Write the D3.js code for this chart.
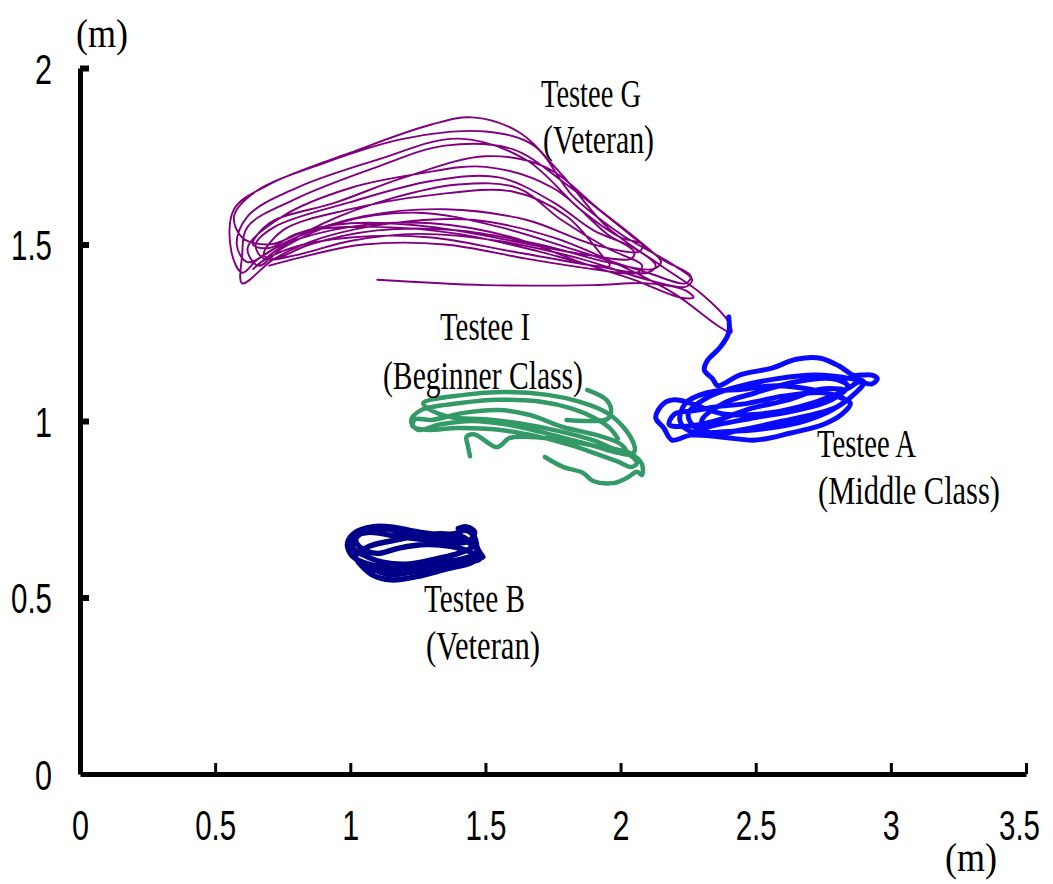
<!DOCTYPE html>
<html>
<head>
<meta charset="utf-8">
<script src="https://cdn.jsdelivr.net/npm/d3@7"></script>
<style>
  body { margin: 0; background: #fff; }
  svg { display: block; }
  .tick text { font-family: "Liberation Sans Narrow", "Liberation Sans", Arial, sans-serif; }
  .note { font-family: "Liberation Serif", "Times New Roman", serif; fill: #000; }
</style>
</head>
<body>
<svg id="chart" width="1053" height="884"></svg>
<script>
// axis ticks (metres)
const xTicks = [0, 0.5, 1, 1.5, 2, 2.5, 3, 3.5];
const yTicks = [0, 0.5, 1, 1.5, 2];

// Testee G (veteran) - thin purple trajectory
const testeeG = [
  [[1.10,1.40],[1.50,1.385],[1.90,1.385],[2.10,1.39],[2.24,1.37],[2.27,1.35],[2.22,1.35],[2.05,1.40],[1.85,1.45],
   [1.60,1.52],[1.30,1.56],[1.00,1.55],[0.75,1.50],[0.62,1.45],[0.58,1.50],[0.62,1.58],
   [0.80,1.66],[1.10,1.74],[1.40,1.80],[1.65,1.74],[1.85,1.60],[2.00,1.52],[2.08,1.50],[2.07,1.48],[1.90,1.50],
   [1.65,1.57],[1.35,1.60],[1.05,1.58],[0.80,1.52],[0.66,1.46],[0.60,1.42],[0.56,1.48],[0.57,1.60],
   [0.70,1.67],[1.00,1.76],[1.30,1.84],[1.45,1.86],[1.62,1.82],[1.78,1.70],[1.95,1.55],[2.15,1.44],[2.30,1.36],
   [2.40,1.28],[2.41,1.25],[2.36,1.27],[2.20,1.36],[2.00,1.44],[1.75,1.52],[1.45,1.57],[1.15,1.56],[0.90,1.52],
   [0.72,1.46],[0.60,1.39],[0.60,1.47],[0.62,1.55],
   [0.80,1.63],[1.10,1.72],[1.35,1.78],[1.60,1.77],[1.80,1.67],[1.95,1.58],[2.15,1.46],[2.26,1.41],[2.24,1.39],
   [2.10,1.42],[1.85,1.48],[1.55,1.55],[1.25,1.59],[0.95,1.56],[0.75,1.49],[0.66,1.44],[0.62,1.49],
   [0.75,1.58],[1.00,1.66],[1.25,1.70],[1.50,1.72],[1.75,1.66],[1.95,1.53],[2.05,1.48],[2.04,1.46],[1.88,1.47],
   [1.60,1.51],[1.30,1.55],[1.00,1.56],[0.80,1.53],[0.70,1.49],[0.64,1.50],
   [0.70,1.56],[0.95,1.62],[1.20,1.69],[1.50,1.75],[1.72,1.72],[1.92,1.60],[2.10,1.49],[2.15,1.45],[2.12,1.43],
   [1.95,1.45],[1.70,1.50],[1.40,1.54],[1.10,1.54],[0.85,1.50],[0.72,1.46],[0.68,1.47],
   [0.75,1.54],[1.00,1.60],[1.30,1.64],[1.60,1.65],[1.80,1.58],[1.93,1.47],[1.96,1.44],[1.90,1.44],[1.70,1.48],
   [1.40,1.53],[1.10,1.55],[0.85,1.54],[0.70,1.50],[0.60,1.52],[0.57,1.58],
   [0.65,1.65],[0.90,1.73],[1.20,1.80],[1.50,1.82],[1.68,1.78],[1.82,1.64],[2.00,1.53],[2.20,1.44],[2.265,1.40],
   [2.24,1.38],[2.10,1.40],[1.85,1.46],[1.55,1.51],[1.25,1.53],[1.00,1.51],[0.80,1.47],[0.68,1.46],[0.65,1.50],
   [0.72,1.55],[1.00,1.62],[1.30,1.68],[1.55,1.69],[1.75,1.62],[1.90,1.54],[2.05,1.49],[2.13,1.44],[2.10,1.42],
   [1.90,1.44],[1.60,1.48],[1.30,1.52],[1.00,1.52],[0.78,1.49],[0.67,1.45],
   [0.64,1.43],[0.72,1.48],[0.90,1.56],[1.15,1.63],[1.40,1.67],[1.62,1.66],[1.78,1.57],[1.95,1.49],[2.08,1.44],
   [2.06,1.42],[1.90,1.43],[1.65,1.46],[1.35,1.50],[1.05,1.50],[0.85,1.47],[0.70,1.44]]
];

// Testee A (middle class) - blue
const testeeA = [
  [[2.40,1.295],[2.40,1.25],[2.37,1.21],[2.32,1.17],[2.31,1.144],[2.34,1.12],[2.36,1.10],
   [2.44,1.13],[2.56,1.15],[2.65,1.175],[2.74,1.178],[2.81,1.155],[2.86,1.13],[2.89,1.13],[2.93,1.13],[2.95,1.12],
   [2.93,1.105],[2.88,1.11],[2.85,1.096],[2.78,1.07],[2.66,1.04],[2.52,1.02],[2.38,1.02],[2.26,1.05],[2.20,1.06],
   [2.16,1.05],[2.13,1.01],[2.16,0.98],[2.19,0.946],[2.26,0.96],[2.37,0.955],[2.50,0.946],[2.63,0.966],[2.75,0.99],
   [2.82,1.02],[2.85,1.05],[2.80,1.07],[2.70,1.09],[2.58,1.10],[2.45,1.09],[2.32,1.08],[2.24,1.05],[2.22,1.00],
   [2.26,0.97],[2.40,0.97],[2.55,0.98],[2.68,1.00],[2.78,1.03],[2.87,1.08],[2.90,1.11],[2.85,1.12],[2.72,1.13],
   [2.58,1.12],[2.45,1.10],[2.33,1.07],[2.25,1.02],[2.28,0.98],[2.36,0.99],[2.50,1.01],[2.65,1.03],[2.78,1.06],
   [2.84,1.10],[2.78,1.12],[2.64,1.11],[2.50,1.08],[2.38,1.05],[2.30,1.00],[2.33,0.965],[2.45,0.975],[2.60,1.00],
   [2.72,1.02],[2.80,1.04],[2.83,1.06],[2.75,1.08],[2.60,1.07],[2.47,1.05],[2.35,1.04],[2.28,1.03],
   [2.20,1.02],[2.18,0.99],[2.24,0.985],[2.35,1.00],[2.48,1.035],[2.62,1.06],[2.74,1.09],[2.82,1.09]]
];

// Testee I (beginner class) - green
const testeeI = [
  [[1.443,0.90],[1.435,0.93],[1.43,0.955],[1.46,0.962],[1.543,0.926],[1.59,0.952],[1.665,0.955],[1.787,0.946],
   [1.90,0.93],[1.99,0.915],[2.04,0.90],[2.06,0.88],[2.04,0.87],[1.99,0.885],[1.90,0.91],[1.80,0.935],[1.70,0.955],
   [1.55,0.975],[1.40,0.98],[1.28,0.975],[1.23,0.985],[1.24,1.005],[1.30,1.003],[1.42,1.023],[1.55,1.031],
   [1.665,1.017],[1.787,0.983],[1.913,0.96],[2.00,0.935],[2.02,0.915],[1.98,0.92],[1.90,0.945],[1.78,0.97],
   [1.65,0.99],[1.50,1.005],[1.38,1.01],[1.30,1.03],[1.27,1.051],[1.42,1.074],[1.565,1.082],[1.73,1.074],
   [1.85,1.054],[1.95,1.023],[2.01,0.983],[2.046,0.941],[2.053,0.918],[2.04,0.905],[1.99,0.91],[1.90,0.93],
   [1.80,0.95],[1.70,0.97],[1.58,0.99],[1.45,1.00],[1.33,0.99],[1.25,0.975],[1.225,1.00],[1.26,1.03],[1.40,1.05],
   [1.55,1.06],[1.70,1.055],[1.82,1.035],[1.90,1.01],[1.96,0.98],[1.99,0.95]],
  [[1.876,1.088],[1.95,1.058],[1.965,1.023],[1.95,1.005],[1.88,1.00],[1.80,1.003]],
  [[1.72,0.898],[1.787,0.870],[1.861,0.853],[1.898,0.830],[1.972,0.824],[2.024,0.839],[2.061,0.856],[2.079,0.847],
   [2.079,0.878],[2.035,0.909],[1.987,0.918],[1.95,0.925]]
];

// Testee B (veteran) - navy
const testeeB = [
  [[1.49,0.615],[1.47,0.64],[1.46,0.67],[1.43,0.69],[1.38,0.68],[1.30,0.68],[1.22,0.69],[1.15,0.70],[1.08,0.70],
   [1.02,0.685],[0.99,0.655],[1.00,0.625],[1.03,0.605],[1.09,0.59],[1.17,0.58],[1.26,0.585],[1.35,0.60],[1.42,0.61],
   [1.47,0.63],[1.44,0.655],[1.36,0.665],[1.26,0.665],[1.16,0.675],[1.07,0.685],[1.01,0.67],[1.01,0.64],[1.05,0.62],
   [1.12,0.60],[1.22,0.595],[1.32,0.61],[1.40,0.625],[1.45,0.645],[1.42,0.67],[1.35,0.68],[1.25,0.675],[1.15,0.66],
   [1.07,0.645],[1.02,0.62],[1.04,0.595],[1.10,0.575],[1.15,0.565],[1.25,0.575],[1.35,0.59],[1.43,0.60],[1.48,0.61],
   [1.44,0.63],[1.37,0.645],[1.28,0.65],[1.18,0.64],[1.10,0.625],[1.04,0.64],[1.02,0.665],[1.06,0.69],[1.13,0.695],
   [1.22,0.68],[1.30,0.665],[1.38,0.655],[1.44,0.66],[1.46,0.685],[1.43,0.70],[1.40,0.695]],
  [[1.03,0.60],[1.08,0.565],[1.15,0.55],[1.25,0.56],[1.35,0.58],[1.45,0.60],[1.48,0.62]]
];

// label text: [text, left x px, baseline y px, width px]
const notes = [
  ["Testee G", 541, 107, 100],
  ["(Veteran)", 543, 153, 111],
  ["Testee I", 440, 340, 90],
  ["(Beginner Class)", 383, 389, 200],
  ["Testee A", 817, 457, 99],
  ["(Middle Class)", 818, 504, 182],
  ["Testee B", 424, 612, 101],
  ["(Veteran)", 426, 659, 114],
  ["(m)", 76, 47, 52],
  ["(m)", 945, 871, 52]
];

const svg = d3.select("#chart");

let x = d3.scaleLinear().domain([0, 3.5]).range([80, 1026]);
let y = d3.scaleLinear().domain([0, 2]).range([774, 68]);

let line = d3.line()
    .x(d => x(d[0]))
    .y(d => y(d[1]))
    .curve(d3.curveCatmullRom.alpha(0.5));

function drawTrack(data, color, width) {
  svg.append("g")
      .selectAll("path")
      .data(data)
      .enter()
      .append("path")
      .attr("d", line)
      .attr("fill", "none")
      .attr("stroke", color)
      .attr("stroke-width", width)
      .attr("stroke-linejoin", "round")
      .attr("stroke-linecap", "round");
}

drawTrack(testeeG, "#800080", 1.9);
drawTrack(testeeI, "#339966", 4.5);
drawTrack(testeeA, "#0a0aff", 5);
drawTrack(testeeB, "#000088", 5.5);

// x axis, ticks pointing up into the plot
let xAxis = svg.append("g")
    .attr("transform", "translate(0," + y(0) + ")")
    .call(d3.axisBottom(x).tickValues(xTicks).tickSizeInner(-11).tickSizeOuter(0).tickPadding(36)
        .tickFormat(d => d));
xAxis.select(".domain").attr("stroke-width", 5);
xAxis.selectAll(".tick line").attr("stroke-width", 3);
xAxis.selectAll(".tick").filter(d => d === 0).select("line").remove();

// y axis, ticks pointing right
let yAxis = svg.append("g")
    .attr("transform", "translate(" + x(0) + ",0)")
    .call(d3.axisLeft(y).tickValues(yTicks).tickSizeInner(-9).tickSizeOuter(0).tickPadding(28)
        .tickFormat(d => d));
yAxis.select(".domain").attr("stroke-width", 5);
yAxis.selectAll(".tick line").attr("stroke-width", 6);
yAxis.selectAll(".tick").filter(d => d === 0).select("line").remove();

svg.selectAll(".tick text")
    .attr("font-size", 42)
    .attr("fill", "#000")
    .attr("lengthAdjust", "spacingAndGlyphs")
    .attr("textLength", d => String(d).length > 1 ? 41 : 17);
yAxis.selectAll(".tick text").attr("dy", "0.36em");
// last x label sits close to the right edge
xAxis.selectAll(".tick").filter(d => d === 3.5).select("text").attr("x", -7);

svg.append("g")
    .selectAll("text")
    .data(notes)
    .enter()
    .append("text")
    .attr("class", "note")
    .attr("x", d => d[1])
    .attr("y", d => d[2])
    .attr("font-size", 39)
    .attr("lengthAdjust", "spacingAndGlyphs")
    .attr("textLength", d => d[3])
    .text(d => d[0]);
</script>
</body>
</html>
